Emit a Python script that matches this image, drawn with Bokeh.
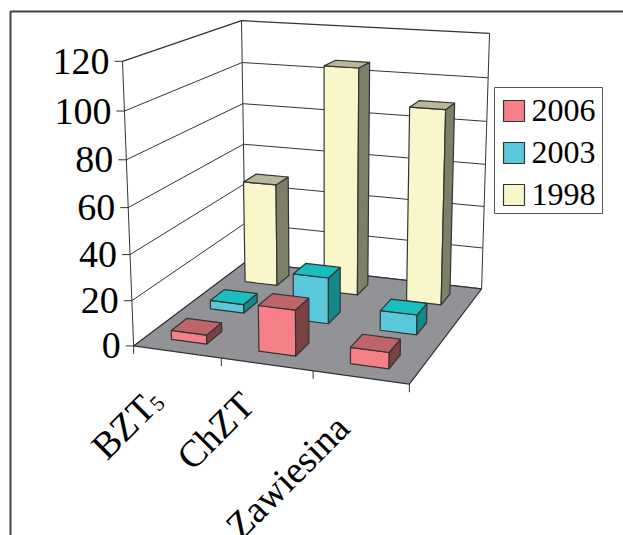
import numpy as np
from bokeh.plotting import figure
from bokeh.models import Range1d
from bokeh.core.properties import value
from bokeh.embed import file_html
from bokeh.resources import INLINE

categories = ["BZT", "ChZT", "Zawiesina"]
series_names = ["2006", "2003", "1998"]
values_2006 = [4, 20, 7]
values_2003 = [4, 21, 9]
values_1998 = [49, 106, 90]
y_ticks = [0, 20, 40, 60, 80, 100, 120]

series_values = [values_2006, values_2003, values_1998]
front_col = ["#F58087", "#5AC8DA", "#F9F7CA"]
top_col = ["#BD656A", "#19BFBF", "#B8B89A"]
side_col = ["#7A4145", "#148888", "#7D7F69"]
FONT = value("Liberation Serif")
INK = "#333333"
VMAX = 120.0

# camera calibration: cube corners (u, v, w) -> page pixels
corners = [((0,0,0),(133,345)), ((1,0,0),(409,384)), ((1,1,0),(481,288)),
           ((0,1,0),(245,262)), ((0,0,1),(122,61)), ((0,1,1),(241,20)), ((1,1,1),(489,33))]
A, b = [], []
for (X,Y,Z),(x,y) in corners:
    A.append([X,Y,Z,1,0,0,0,0,-x*X,-x*Y,-x*Z]); b.append(x)
    A.append([0,0,0,0,X,Y,Z,1,-y*X,-y*Y,-y*Z]); b.append(y)
P = np.linalg.lstsq(np.array(A,float), np.array(b,float), rcond=None)[0]
def proj(u,v,w):
    d = P[8]*u+P[9]*v+P[10]*w+1
    return (float((P[0]*u+P[1]*v+P[2]*w+P[3])/d), float((P[4]*u+P[5]*v+P[6]*w+P[7])/d))
def poly(*pts):
    q = [proj(*t) for t in pts]
    return [a for a,_ in q], [c for _,c in q]

p = figure(width=623, height=535, x_range=Range1d(0,623), y_range=Range1d(535,0),
           output_backend="svg", toolbar_location=None, min_border=0, outline_line_color=None)
p.xaxis.visible = False; p.yaxis.visible = False; p.grid.visible = False
p.background_fill_color = "white"; p.border_fill_color = "white"

# frame
p.line([10,10,623],[535,11,11], line_color="#444444", line_width=2)

# grid + walls
for t in y_ticks:
    w = t/VMAX
    xs, ys = poly((0,0,w),(0,1,w),(1,1,w))
    lw = 1.3 if t==120 else 1
    p.line(xs, ys, line_color=INK, line_width=lw)
    tx, ty = proj(0,0,w)
    p.line([tx-8,tx],[ty,ty], line_color=INK, line_width=1)
    p.text([tx-13],[ty], text=[str(t)], text_font=FONT, text_font_size="38px",
           text_align="right", text_baseline="middle", text_color="black")
for c in [(0,0),(0,1),(1,1)]:
    xs, ys = poly((c[0],c[1],0),(c[0],c[1],1))
    p.line(xs, ys, line_color=INK, line_width=1)

# floor
xs, ys = poly((0,0,0),(1,0,0),(1,1,0),(0,1,0))
p.patch(xs, ys, fill_color="#929396", line_color=INK, line_width=1.2)
for i in range(4):
    tx, ty = proj(i/3,0,0)
    p.line([tx,tx],[ty,ty+8], line_color=INK, line_width=1)

# bars
HU, HV = 0.068, 0.065
px, py, pc = [], [], []
for s in (2,1,0):
    for i in range(3):
        uc, vc = (i+.5)/3-0.002, (s+.5)/3
        u0,u1,v0,v1 = uc-HU,uc+HU,vc-HV,vc+HV
        w = series_values[s][i]/VMAX
        for f,col in [(((u0,v0,0),(u1,v0,0),(u1,v0,w),(u0,v0,w)),front_col[s]),
                      (((u1,v0,0),(u1,v1,0),(u1,v1,w),(u1,v0,w)),side_col[s]),
                      (((u0,v0,w),(u1,v0,w),(u1,v1,w),(u0,v1,w)),top_col[s])]:
            a,c = poly(*f); px.append(a); py.append(c); pc.append(col)
p.patches(px, py, fill_color=pc, line_color=INK, line_width=1.2)

# category labels
label_anchor = [(148,401),(247,398),(342,421)]
for name,(x,y) in zip(categories,label_anchor):
    p.text([x],[y], text=[name], angle=45, angle_units="deg", text_font=FONT, text_font_size="38px",
           text_align="right", text_baseline="middle", text_color="black")
p.text([153],[407], text=["5"], angle=45, angle_units="deg", text_font=FONT, text_font_size="22px",
       text_align="left", text_baseline="middle", text_color="black")

# legend
p.quad(left=[494],right=[602],top=[87],bottom=[213], fill_color="white", line_color="#555555", line_width=1)
for i,name in enumerate(series_names):
    y0 = 100+42*i
    p.quad(left=[503],right=[524],top=[y0],bottom=[y0+21], fill_color=front_col[i], line_color=INK, line_width=1.2)
    p.text([531],[y0+9.5], text=[name], text_font=FONT, text_font_size="32px",
           text_align="left", text_baseline="middle", text_color="black")

open("out.html","w").write(file_html(p, INLINE))
